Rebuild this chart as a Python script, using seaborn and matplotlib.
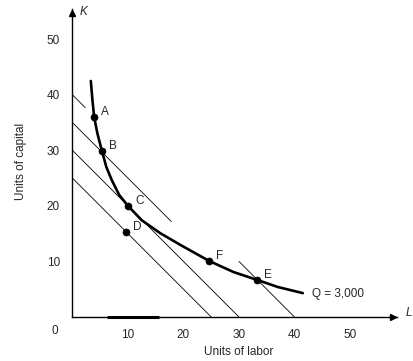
import numpy as np
import pandas as pd
import matplotlib
matplotlib.use("Agg")
import matplotlib.pyplot as plt
import seaborn as sns

# ---------------------------------------------------------
# Data
# ---------------------------------------------------------
# isoquant Q = 3,000 (hand drawn curve)
curve_L = [3.3, 3.6, 3.9, 4.5, 5.3, 6.1, 7.1, 8.4, 10.0, 12.5, 15.8, 19.4, 24.6, 29.0, 33.2, 37.0, 41.5]
curve_K = [42.5, 39.0, 36.0, 33.0, 29.9, 27.0, 24.6, 22.0, 20.0, 17.4, 15.1, 13.0, 10.1, 8.1, 6.7, 5.4, 4.3]

# labelled input combinations
point_names = ["A", "B", "C", "D", "F", "E"]
point_L = [3.9, 5.3, 10.0, 9.6, 24.6, 33.2]
point_K = [36.0, 29.9, 20.0, 15.3, 10.1, 6.7]

# isocost lines L + K = const, drawn as segments (start L, end L)
iso_const = [40, 40, 35, 30, 25]
iso_from = [0.0, 30.0, 0.0, 0.0, 0.0]
iso_to = [2.3, 40.0, 17.8, 30.0, 25.0]

x_ticks = [10, 20, 30, 40, 50]
y_ticks = [10, 20, 30, 40, 50]

# ---------------------------------------------------------
# Plot
# ---------------------------------------------------------
sns.set_style("white")
plt.rcParams["font.family"] = ["Liberation Sans", "DejaVu Sans"]

fig = plt.figure(figsize=(4.14, 3.61), dpi=100)
ax = fig.add_axes([72.5 / 414, 44 / 361, 333 / 414, 311 / 361])
ax.set_xlim(0, 60)
ax.set_ylim(0, 56)

for c, a, b in zip(iso_const, iso_from, iso_to):
    ax.plot([a, b], [c - a, c - b], color="black", lw=0.6)

curve = pd.DataFrame({"L": curve_L, "K": curve_K})
sns.lineplot(data=curve, x="L", y="K", sort=False, color="black", lw=1.9, ax=ax)

pts = pd.DataFrame({"L": point_L, "K": point_K, "name": point_names})
sns.scatterplot(data=pts, x="L", y="K", color="black", s=26, edgecolor="black", ax=ax, zorder=5)
for _, r in pts.iterrows():
    ax.text(r["L"] + 1.3, r["K"] + 0.9, r["name"], fontsize=8.5, va="center", ha="left")

ax.text(43.2, 4.1, "Q = 3,000", fontsize=8.5, va="center", ha="left")

# thick mark on the L axis
ax.plot([6.2, 15.6], [0, 0], color="black", lw=2.2, solid_capstyle="butt", clip_on=False)

# axes
sns.despine(ax=ax)
ax.spines["left"].set_bounds(0, 55.5)
ax.spines["bottom"].set_bounds(0, 58.5)
for s in ["left", "bottom"]:
    ax.spines[s].set_linewidth(1.0)
    ax.spines[s].set_color("black")
ax.plot(0, 54.8, marker="^", color="black", ms=4, clip_on=False)
ax.plot(57.8, 0, marker=">", color="black", ms=4, clip_on=False)
ax.text(1.3, 55.0, "K", fontsize=8.5, style="italic", va="center")
ax.text(60.0, 0.8, "L", fontsize=8.5, style="italic", va="center")

ax.set_xticks(x_ticks)
ax.set_yticks(y_ticks)
ax.set_xticklabels([str(t) for t in x_ticks], fontsize=8.5)
ax.set_yticklabels([str(t) for t in y_ticks], fontsize=8.5)
ax.tick_params(direction="in", length=6, width=0.8, color="black", pad=9)
ax.text(-3.2, -2.6, "0", fontsize=8.5, ha="center", va="center")

ax.set_xlabel("Units of labor", fontsize=8.5, labelpad=3)
ax.set_ylabel("Units of capital", fontsize=8.5, labelpad=14)

fig.savefig("out.png", dpi=100)
